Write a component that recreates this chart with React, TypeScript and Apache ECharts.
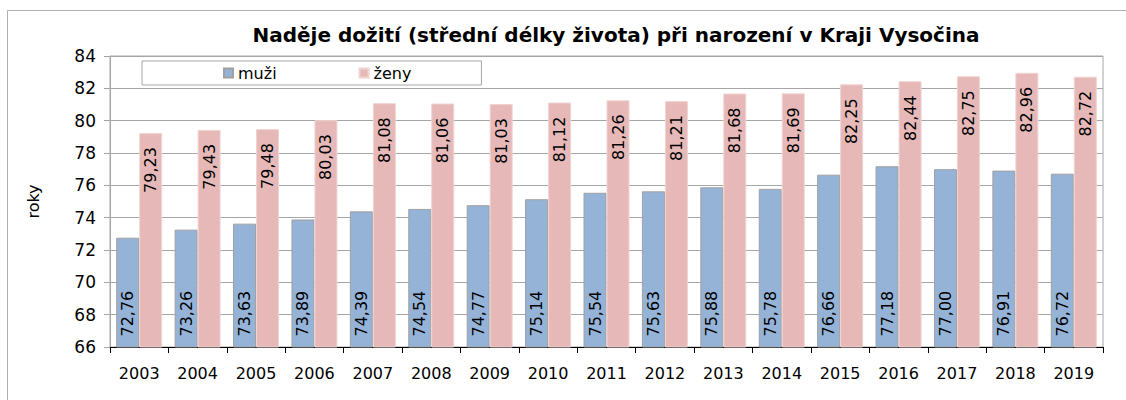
import React, { useEffect, useRef } from "react";
import * as echarts from "echarts";

const years = ["2003","2004","2005","2006","2007","2008","2009","2010","2011","2012","2013","2014","2015","2016","2017","2018","2019"];
const muzi = [72.76, 73.26, 73.63, 73.89, 74.39, 74.54, 74.77, 75.14, 75.54, 75.63, 75.88, 75.78, 76.66, 77.18, 77.0, 76.91, 76.72];
const zeny = [79.23, 79.43, 79.48, 80.03, 81.08, 81.06, 81.03, 81.12, 81.26, 81.21, 81.68, 81.69, 82.25, 82.44, 82.75, 82.96, 82.72];

const FONT = "DejaVu Sans";
const fmt = (p: any) => Number(p.value).toFixed(2).replace(".", ",");

export default function App() {
  const ref = useRef<HTMLDivElement>(null);
  useEffect(() => {
    const chart = echarts.init(ref.current!, null, { renderer: "svg" });
    chart.setOption({
      animation: false,
      backgroundColor: "#ffffff",
      textStyle: { fontFamily: FONT },
      title: {
        text: "Naděje dožití (střední délky života) při narození v Kraji Vysočina",
        left: 611,
        textAlign: "center",
        top: 20,
        textStyle: { fontFamily: FONT, fontSize: 20, fontWeight: "bold", color: "#000" },
      },
      graphic: [
        {
          type: "rect",
          shape: { x: 7.5, y: 10.5, width: 1300, height: 600 },
          style: { fill: "none", stroke: "#b0b0b0", lineWidth: 1 },
          silent: true,
        },
      ],
      legend: {
        left: 142,
        top: 61,
        padding: [4, 70, 4, 81],
        itemGap: 82,
        itemWidth: 9,
        itemHeight: 9,
        borderColor: "#a6a6a6",
        borderWidth: 1,
        backgroundColor: "#fff",
        textStyle: { fontFamily: FONT, fontSize: 16, color: "#000" },
        data: [
          { name: "muži", icon: "rect" },
          { name: "ženy", icon: "rect" },
        ],
      },
      grid: {
        left: 110,
        right: 23,
        top: 56,
        bottom: 53,
        show: true,
        borderColor: "#a6a6a6",
        borderWidth: 1,
        containLabel: false,
      },
      xAxis: {
        type: "category",
        data: years,
        axisLine: { show: true, lineStyle: { color: "#000", width: 1 } },
        axisTick: { show: true, length: 6, lineStyle: { color: "#000" } },
        axisLabel: { fontFamily: FONT, fontSize: 16, color: "#000", margin: 18 },
      },
      yAxis: {
        type: "value",
        min: 66,
        max: 84,
        interval: 2,
        name: "roky",
        nameLocation: "middle",
        nameGap: 69,
        nameTextStyle: { fontFamily: FONT, fontSize: 16, color: "#000" },
        axisLine: { show: true, lineStyle: { color: "#a6a6a6" } },
        axisTick: { show: true, length: 6, lineStyle: { color: "#a6a6a6" } },
        axisLabel: { fontFamily: FONT, fontSize: 17, color: "#000", margin: 14 },
        splitLine: { show: true, lineStyle: { color: "#a6a6a6", width: 1 } },
      },
      series: [
        {
          name: "muži",
          type: "bar",
          data: muzi,
          barWidth: 23,
          barGap: "0%",
          itemStyle: { color: "#95b3d7", borderColor: "#a0a0a0", borderWidth: 1 },
          label: {
            show: true,
            position: "insideBottom",
            rotate: 90,
            align: "left",
            verticalAlign: "middle",
            distance: 11,
            formatter: fmt,
            fontFamily: FONT,
            fontSize: 16,
            color: "#000",
          },
        },
        {
          name: "ženy",
          type: "bar",
          data: zeny,
          barWidth: 23,
          barGap: "0%",
          itemStyle: { color: "#e6b9b8", borderColor: "#efd3d2", borderWidth: 1 },
          label: {
            show: true,
            position: "insideTop",
            rotate: 90,
            align: "right",
            verticalAlign: "middle",
            distance: 14,
            formatter: fmt,
            fontFamily: FONT,
            fontSize: 16,
            color: "#000",
          },
        },
      ],
    });
    return () => chart.dispose();
  }, []);
  return <div ref={ref} style={{ position: "absolute", left: 0, top: 0, width: 1126, height: 400 }} />;
}
